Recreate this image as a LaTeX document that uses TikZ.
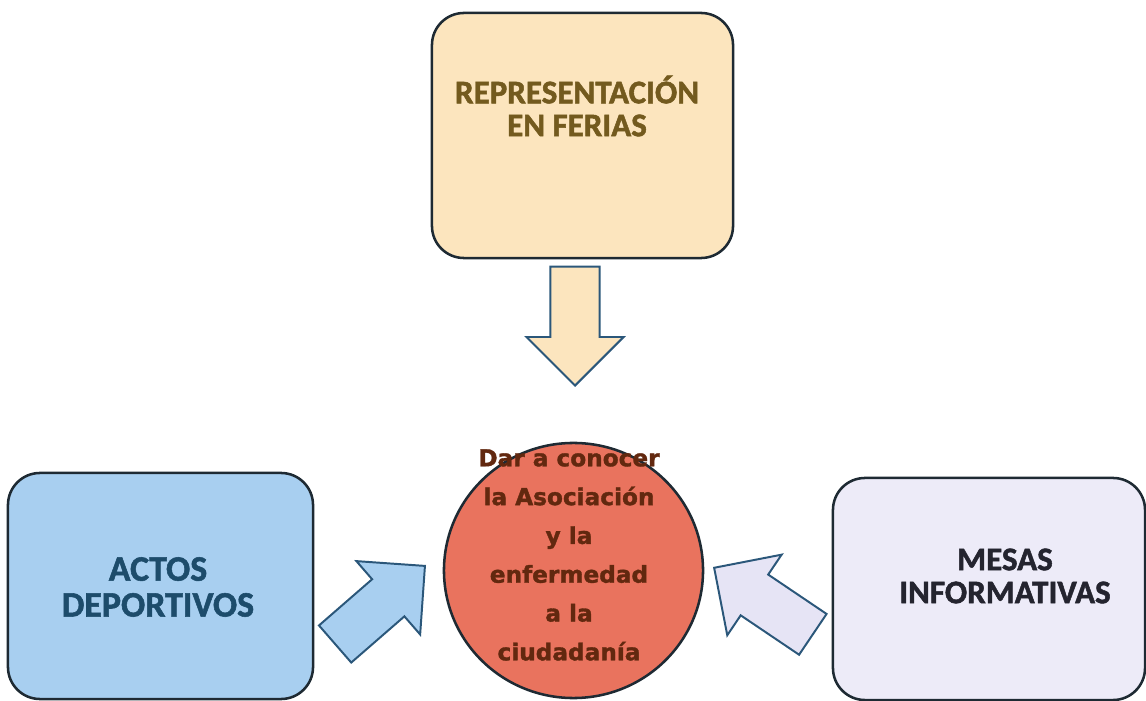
\documentclass[tikz,border=0pt]{standalone}
\usepackage{fontspec}
\setmainfont{Carlito}[BoldFeatures={FakeBold=1.5}]
\newfontfamily\elipfont{DejaVu Sans}[BoldFeatures={FakeBold=1.5}]
\usepackage{tikz}
\usetikzlibrary{shapes.geometric, shapes.arrows}
\usetikzlibrary{arrows.meta, positioning}

\definecolor{borde}{HTML}{1E2A33}
\definecolor{bordeflecha}{HTML}{2B577A}
\definecolor{melocoton}{HTML}{FCE5BE}
\definecolor{celeste}{HTML}{A8CFF0}
\definecolor{lavanda}{HTML}{EDEBF8}
\definecolor{lavandaflecha}{HTML}{E6E4F5}
\definecolor{salmon}{HTML}{E9735E}
\definecolor{txtferias}{HTML}{735A1E}
\definecolor{txtactos}{HTML}{1D4C6B}
\definecolor{txtmesas}{HTML}{24242F}
\definecolor{txtasoc}{HTML}{62280F}

\begin{document}
\begin{tikzpicture}[x=0.025cm, y=-0.025cm,
  caja/.style={draw=borde, line width=1.8pt, rounded corners=0.8cm, inner sep=0pt},
  flecha/.style={single arrow, draw=bordeflecha, line width=1.4pt,
    minimum height=2.975cm, minimum width=2.4cm,
    single arrow head extend=0.6cm, inner xsep=0pt, inner ysep=0.59cm, anchor=tip},
  rotulo/.style={font=\bfseries, align=center}]

\useasboundingbox (0,0) rectangle (1146,701);

% Boxes
\node[caja, fill=melocoton, minimum width=7.525cm, minimum height=6.125cm] (ferias) at (582.5,135.5) {};
\node[caja, fill=celeste, minimum width=7.625cm, minimum height=5.65cm] (actos) at (160.5,586) {};
\node[caja, fill=lavanda, minimum width=7.8cm, minimum height=5.55cm] (mesas) at (989,589) {};

% Central ellipse
\node[ellipse, draw=borde, line width=1.8pt, fill=salmon, inner sep=0pt,
  minimum width=6.475cm, minimum height=6.375cm] (asoc) at (573.5,570.5) {};

% Labels
\node[rotulo, text=txtferias, font=\bfseries\fontsize{23.5}{23.4}\selectfont] (fertxt) at (577,106) {REPRESENTACIÓN\\EN FERIAS};
\node[rotulo, text=txtactos, font=\bfseries\fontsize{25.5}{25.5}\selectfont] (actxt) at (158,587) {ACTOS\\DEPORTIVOS};
\node[rotulo, text=txtmesas, font=\bfseries\fontsize{23.5}{23.5}\selectfont] (mestxt) at (1005,576) {MESAS\\INFORMATIVAS};
\node[rotulo, text=txtasoc, font=\elipfont\bfseries\fontsize{16.5}{27.6}\selectfont] (asoctxt) at (569,555)
  {Dar a conocer\\la Asociación\\y la\\enfermedad\\a la\\ciudadanía};

% Block arrows (placed by their tips)
\node[flecha, fill=melocoton, rotate=-90] (flFerias) at (575,387) {};
\node[flecha, fill=celeste, rotate=41] (flActos) at (426,565) {};
\node[flecha, fill=lavandaflecha, rotate=146] (flMesas) at (713,567) {};

\end{tikzpicture}
\end{document}
